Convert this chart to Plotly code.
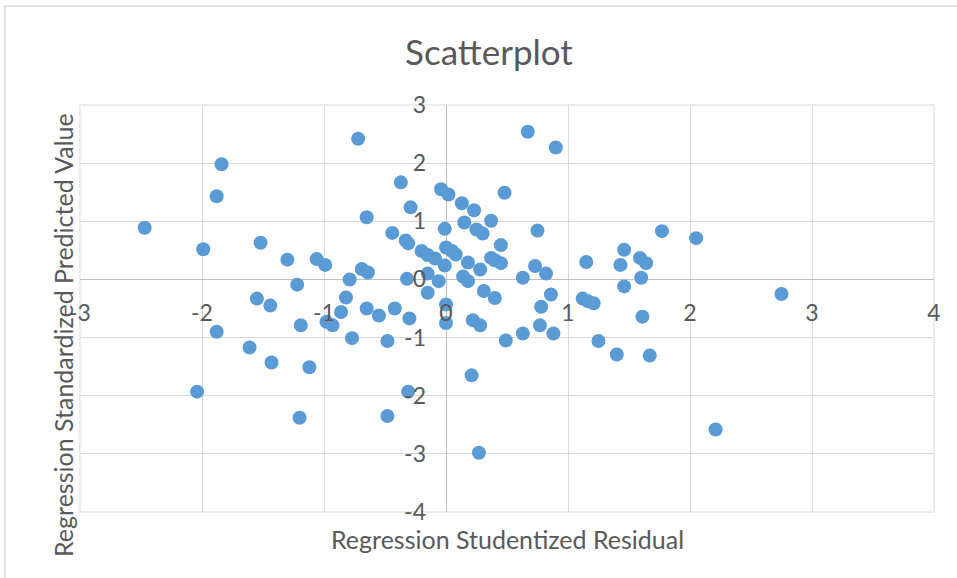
import plotly.graph_objects as go

# Data
resid = [-2.47, -1.99, -1.84, -1.88, -1.52, -1.30, -1.06, -0.99, -1.22, -0.79,
         -0.69, -0.64, -1.55, -1.44, -0.82, -0.86, -1.19, -0.98, -0.93, -0.77,
         -1.88, -1.61, -1.43, -1.12, -2.04, -1.20, -0.72, 0.67, 0.90, -0.37,
         -0.04, 0.02, -0.29, 0.13, 0.23, 0.48, -0.65, 0.15, 0.37, -0.01,
         0.25, 0.30, 0.75, -0.44, -0.33, -0.31, 0.45, -0.20, -0.15, -0.09,
         0.00, 0.05, 0.08, -0.01, 0.18, 0.28, 0.37, 0.40, 0.45, 0.63,
         0.73, 0.82, 1.15, 1.46, 1.43, 1.59, 1.64, 1.60, 1.46, 1.77,
         2.05, -0.32, -0.15, -0.06, 0.14, 0.18, -0.15, 0.31, 0.40, 0.86,
         0.78, 1.12, 1.16, 1.21, -0.65, -0.42, 0.00, -0.55, -0.30, -0.48,
         0.00, 0.22, 0.28, 0.49, 0.63, 0.77, 0.88, 1.25, 1.40, 1.67,
         1.61, 2.75, 0.21, -0.31, -0.48, 0.27, 2.21]
pred = [0.89, 0.52, 1.98, 1.43, 0.63, 0.34, 0.35, 0.25, -0.09, 0.00,
        0.18, 0.12, -0.33, -0.45, -0.31, -0.56, -0.79, -0.73, -0.79, -1.01,
        -0.90, -1.17, -1.43, -1.51, -1.93, -2.38, 2.42, 2.54, 2.27, 1.67,
        1.55, 1.46, 1.24, 1.31, 1.19, 1.49, 1.07, 0.98, 1.01, 0.87,
        0.86, 0.79, 0.84, 0.80, 0.67, 0.62, 0.59, 0.49, 0.42, 0.36,
        0.55, 0.49, 0.43, 0.24, 0.29, 0.17, 0.37, 0.33, 0.28, 0.03,
        0.23, 0.10, 0.30, 0.51, 0.25, 0.37, 0.28, 0.03, -0.12, 0.83,
        0.71, 0.01, 0.10, -0.03, 0.05, -0.03, -0.23, -0.20, -0.32, -0.26,
        -0.47, -0.33, -0.37, -0.41, -0.50, -0.50, -0.43, -0.62, -0.67, -1.06,
        -0.75, -0.70, -0.79, -1.05, -0.93, -0.79, -0.93, -1.06, -1.29, -1.31,
        -0.64, -0.25, -1.65, -1.93, -2.35, -2.98, -2.58]

x_ticks = [-3, -2, -1, 0, 1, 2, 3, 4]
y_ticks = [-4, -3, -2, -1, 0, 1, 2, 3]
x_ticklabels = ["-3", "-2", "-1", "0", "1", "2", "3", "4"]
y_ticklabels = ["-4", "-3", "-2", "-1", "0", "1", "2", "3"]

title_text = "Scatterplot"
x_title = "Regression Studentized Residual"
y_title = "Regression Standardized Predicted Value"

W, H = 957, 578
L, R, T, B = 80, 23, 105, 66
pw, ph = W - L - R, H - T - B

def fx(px):
    return (px - L) / pw

def fy(py):
    return (H - B - py) / ph

FONT = "Lato"
TXT = "#595959"
GRID = "#D9D9D9"
AXIS = "#BFBFBF"

xr = [min(x_ticks), max(x_ticks)]
yr = [min(y_ticks), max(y_ticks)]

fig = go.Figure(go.Scatter(
    x=resid, y=pred, mode="markers",
    marker=dict(size=14, color="#5B9BD5", line=dict(width=0)),
    hoverinfo="x+y",
))

fig.update_layout(
    width=W, height=H,
    margin=dict(l=L, r=R, t=T, b=B),
    paper_bgcolor="white", plot_bgcolor="white",
    showlegend=False,
    font=dict(family=FONT, color=TXT),
    title=dict(text=title_text, x=489 / W, xanchor="center",
               y=1 - 53 / H, yanchor="middle",
               font=dict(family=FONT, size=35, color=TXT)),
    xaxis=dict(range=xr, tickvals=x_ticks, ticktext=x_ticklabels,
               showgrid=True, gridcolor=GRID, gridwidth=1,
               zeroline=True, zerolinecolor=AXIS, zerolinewidth=1, showline=False,
               anchor="free", position=(0 - yr[0]) / (yr[1] - yr[0]),
               ticks="", ticklabelstandoff=18,
               tickfont=dict(family=FONT, size=23, color=TXT), fixedrange=True),
    yaxis=dict(range=yr, tickvals=y_ticks, ticktext=y_ticklabels,
               showgrid=True, gridcolor=GRID, gridwidth=1,
               zeroline=True, zerolinecolor=AXIS, zerolinewidth=1, showline=False,
               anchor="free", position=(0 - xr[0]) / (xr[1] - xr[0]),
               ticks="", ticklabelstandoff=20,
               tickfont=dict(family=FONT, size=23, color=TXT), fixedrange=True),
    annotations=[
        dict(text=x_title, xref="paper", yref="paper", x=0.5, y=fy(539),
             xanchor="center", yanchor="middle", showarrow=False,
             font=dict(family=FONT, size=25, color=TXT)),
        dict(text=y_title, xref="paper", yref="paper", x=fx(63), y=fy(335),
             xanchor="center", yanchor="middle", showarrow=False, textangle=-90,
             font=dict(family=FONT, size=25, color=TXT)),
    ],
    shapes=[
        dict(type="rect", xref="paper", yref="paper", x0=0, x1=1, y0=0, y1=1,
             line=dict(color=GRID, width=1), layer="below"),
        dict(type="rect", xref="paper", yref="paper", x0=fx(5), x1=fx(975),
             y0=fy(595), y1=fy(6), line=dict(color=GRID, width=1.5), layer="below"),
    ],
)

fig.write_html("out.html", config={"displayModeBar": False},
               post_script="document.body.style.margin='0';document.body.style.padding='0';")
